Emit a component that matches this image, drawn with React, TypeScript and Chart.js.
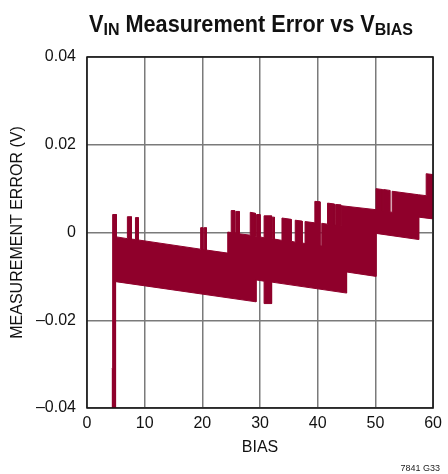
import React, { useEffect, useRef } from 'react';
import { Chart, registerables } from 'chart.js';

Chart.register(...registerables);

// Upper edge of the measured error band (x = BIAS, y = error in volts)
const upperX = [
  4.3, 4.45, 4.45, 5.1, 5.1, 7.0, 7.0, 7.7, 7.7, 8.4, 8.4, 8.9, 8.9, 19.7, 19.7, 20.1, 20.1, 20.3, 20.3, 20.7,
  20.7, 24.4, 24.4, 25.0, 25.0, 25.6, 25.6, 25.8, 25.8, 26.4, 26.4, 28.3, 28.3, 29.2, 29.2, 29.4, 29.4, 30.0,
  30.0, 30.7, 30.7, 32.0, 32.0, 32.1, 32.1, 32.5, 32.5, 33.8, 33.8, 35.4, 35.4, 36.1, 36.1, 37.3, 37.3, 37.8,
  37.8, 39.5, 39.5, 40.4, 40.4, 40.7, 40.7, 41.7, 41.7, 42.9, 42.9, 43.1, 43.1, 44.0, 44.0, 44.1, 44.1, 50.1,
  50.1, 51.2, 51.2, 51.4, 51.4, 52.5, 52.5, 52.9, 52.9, 57.5, 58.8, 58.8, 60.0,
];
const upperY = [
  -0.031, -0.031, 0.0041, 0.0041, -0.001, -0.0014, 0.0036, 0.0036, -0.0015, -0.0016, 0.0034, 0.0034, -0.0017,
  -0.0038, 0.0011, 0.0011, -0.0039, -0.0039, 0.0011, 0.0011, -0.004, -0.0047, 0.0001, 0.0, 0.005, 0.005,
  -0.0001, -0.0001, 0.0048, 0.0048, -0.0003, -0.0006, 0.0046, 0.0044, -0.0008, -0.0009, 0.0041, 0.0041,
  -0.001, -0.0012, 0.0038, 0.0038, -0.0014, -0.0014, 0.0035, 0.0035, -0.0015, -0.0018, 0.0033, 0.003,
  -0.002, -0.0022, 0.0028, 0.0026, -0.0024, -0.0025, 0.0025, 0.0022, 0.0071, 0.007, -0.003, -0.003, 0.0021,
  0.0019, 0.0067, 0.0065, 0.0017, 0.0017, 0.0064, 0.0063, 0.0015, 0.0015, 0.0061, 0.0052, 0.01, 0.0098,
  0.0049, 0.0049, 0.0098, 0.0096, 0.0047, 0.0046, 0.0094, 0.0086, 0.0084, 0.0134, 0.0132,
];

// Lower edge of the band
const lowerX = [4.3, 4.95, 4.95, 29.3, 29.3, 30.7, 30.7, 32.0, 32.0, 45.0, 45.0, 50.1, 50.1, 57.5, 57.5, 60.0];
const lowerY = [
  -0.041, -0.041, -0.0112, -0.0158, -0.0108, -0.0111, -0.0162, -0.0162, -0.0113, -0.0138, -0.009, -0.01,
  -0.0002, -0.0016, 0.0035, 0.0031,
];

const xMin = 0;
const xMax = 60;
const xStep = 10;
const yTickValues = [-0.04, -0.02, 0, 0.02, 0.04];
const yTickLabels = ['\u20130.04', '\u20130.02', '0', '0.02', '0.04'];

const titleParts = [
  { text: 'V', sub: false },
  { text: 'IN', sub: true },
  { text: ' Measurement Error vs V', sub: false },
  { text: 'BIAS', sub: true },
];
const xTitle = 'BIAS';
const yTitle = 'MEASUREMENT ERROR (V)';
const footnote = '7841 G33';

const BAND = '#8f002b';
const FONT = '"Liberation Sans", Arial, Helvetica, sans-serif';

const decorPlugin = {
  id: 'decor',
  afterDatasetsDraw(chart: any) {
    const { ctx, chartArea } = chart;
    ctx.save();
    ctx.strokeStyle = '#111';
    ctx.lineWidth = 1.5;
    ctx.strokeRect(chartArea.left, chartArea.top, chartArea.right - chartArea.left, chartArea.bottom - chartArea.top);
    ctx.restore();
  },
  afterDraw(chart: any) {
    const { ctx } = chart;
    ctx.save();
    const mainFont = `bold 23px ${FONT}`;
    const subFont = `bold 17px ${FONT}`;
    const widths = titleParts.map((p) => {
      ctx.font = p.sub ? subFont : mainFont;
      return ctx.measureText(p.text).width;
    });
    const total = widths.reduce((a, b) => a + b, 0);
    const target = 324;
    const sx = target / total;
    const cx = 251;
    ctx.translate(cx - target / 2, 31.7);
    ctx.scale(sx, 1);
    ctx.fillStyle = '#111';
    ctx.textBaseline = 'alphabetic';
    ctx.textAlign = 'left';
    let x = 0;
    titleParts.forEach((p, i) => {
      ctx.font = p.sub ? subFont : mainFont;
      ctx.fillText(p.text, x, p.sub ? 3.4 : 0);
      x += widths[i];
    });
    ctx.restore();

    ctx.save();
    ctx.font = `9px ${FONT}`;
    ctx.fillStyle = '#222';
    ctx.textAlign = 'right';
    ctx.textBaseline = 'alphabetic';
    ctx.fillText(footnote, 440, 471);
    ctx.restore();
  },
};

export default function App() {
  const canvasRef = useRef<HTMLCanvasElement | null>(null);

  useEffect(() => {
    const canvas = canvasRef.current;
    if (!canvas) return;
    const upper = upperX.map((x, i) => ({ x, y: upperY[i] }));
    const lower = lowerX.map((x, i) => ({ x, y: lowerY[i] })).reverse();
    const polygon = [...upper, ...lower];

    const chart = new Chart(canvas, {
      type: 'line',
      data: {
        datasets: [
          {
            label: 'Measurement error',
            data: polygon,
            borderColor: BAND,
            backgroundColor: BAND,
            borderWidth: 1,
            pointRadius: 0,
            tension: 0,
            fill: 'shape',
          } as any,
        ],
      },
      options: {
        animation: false,
        responsive: false,
        devicePixelRatio: 1,
        layout: { padding: { top: 57, right: 10, left: 0, bottom: 0 } },
        plugins: { legend: { display: false }, tooltip: { enabled: false }, title: { display: false } },
        scales: {
          x: {
            type: 'linear',
            min: xMin,
            max: xMax,
            ticks: {
              stepSize: xStep,
              padding: 6,
              color: '#111',
              maxRotation: 0,
              font: { family: FONT, size: 16 },
            },
            grid: { color: '#7a7a7a', lineWidth: 1.5, drawTicks: false },
            border: { display: false },
            title: {
              display: true,
              text: xTitle,
              color: '#111',
              font: { family: FONT, size: 16 },
              padding: { top: 0, bottom: 17 },
            },
            afterFit: (s: any) => {
              s.height = 66;
            },
          },
          y: {
            type: 'linear',
            min: yTickValues[0],
            max: yTickValues[yTickValues.length - 1],
            ticks: {
              stepSize: 0.02,
              padding: 11,
              color: '#111',
              font: { family: FONT, size: 16 },
              callback: (v: any) => {
                let best = 0;
                yTickValues.forEach((t, i) => {
                  if (Math.abs(t - v) < Math.abs(yTickValues[best] - v)) best = i;
                });
                return yTickLabels[best];
              },
            },
            grid: { color: '#7a7a7a', lineWidth: 1.5, drawTicks: false },
            border: { display: false },
            title: {
              display: true,
              text: yTitle,
              color: '#111',
              font: { family: FONT, size: 16 },
              padding: { top: 8, bottom: 0 },
            },
            afterFit: (s: any) => {
              s.width = 87;
            },
          },
        },
      },
      plugins: [decorPlugin],
    });
    return () => chart.destroy();
  }, []);

  return (
    <div style={{ position: 'fixed', left: 0, top: 0, width: 448, height: 474, background: '#fff' }}>
      <canvas ref={canvasRef} width={448} height={474} style={{ width: 448, height: 474, display: 'block' }} />
    </div>
  );
}
